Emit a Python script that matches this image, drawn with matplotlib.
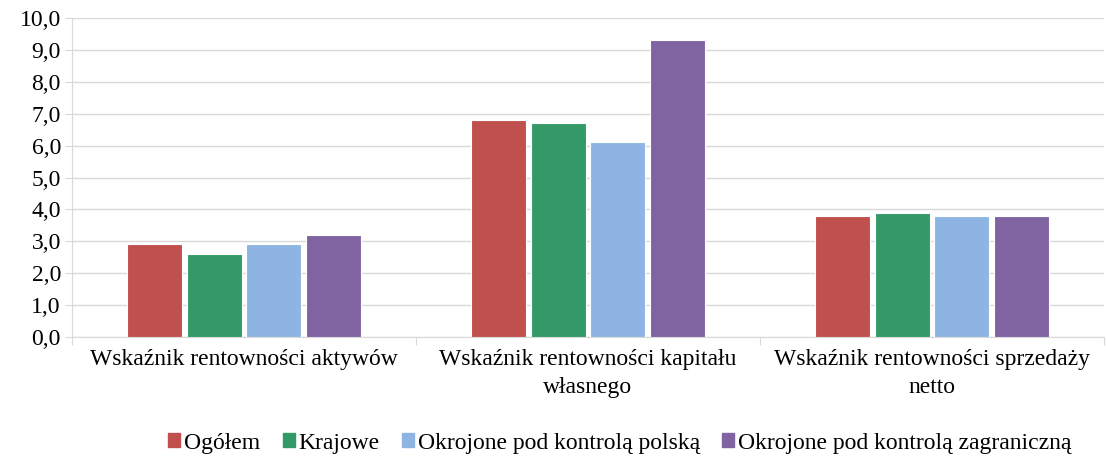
import numpy as np
import matplotlib.pyplot as plt
from matplotlib.patches import Patch

plt.rcParams['font.family'] = ['Liberation Serif', 'DejaVu Serif']

kategorie = ['Wskaźnik rentowności aktywów',
             'Wskaźnik rentowności kapitału\nwłasnego',
             'Wskaźnik rentowności sprzedaży\nnetto']
serie = ['Ogółem', 'Krajowe', 'Okrojone pod kontrolą polską',
         'Okrojone pod kontrolą zagraniczną']
ogolem = [2.9, 6.8, 3.8]
krajowe = [2.6, 6.7, 3.9]
polska = [2.9, 6.1, 3.8]
zagraniczna = [3.2, 9.3, 3.8]
kolory = ['#C0504D', '#339966', '#8EB4E3', '#8064A2']

fig = plt.figure(figsize=(11.06, 4.58), dpi=100)
ax = fig.add_axes([72/1106, 1-337/458, (1104-72)/1106, (337-18)/458])

x = np.arange(len(kategorie))
w = 0.16
step = 0.174
for i, (vals, c) in enumerate(zip([ogolem, krajowe, polska, zagraniczna], kolory)):
    ax.bar(x + (i - 1.5)*step, vals, w, color=c, edgecolor='white', linewidth=0.8, zorder=3)

ax.set_xlim(-0.5, 2.5)
ax.set_ylim(0, 10)
ax.set_yticks(np.arange(0, 11, 1))
ax.set_yticklabels([f'{v:.1f}'.replace('.', ',') for v in range(11)], fontsize=17)
ax.yaxis.grid(True, color='#D9D9D9', linewidth=1, zorder=0)
ax.tick_params(axis='y', length=5, color='#D9D9D9', pad=3)

ax.set_xticks([-0.5, 0.5, 1.5, 2.5])
ax.set_xticklabels([])
ax.set_xticks(x, minor=True)
ax.set_xticklabels(kategorie, minor=True, fontsize=17, linespacing=1.4)
ax.tick_params(axis='x', which='major', length=6, color='#D9D9D9')
ax.tick_params(axis='x', which='minor', length=0, pad=9)

for s in ['top', 'right']:
    ax.spines[s].set_visible(False)
ax.spines['left'].set_color('#D9D9D9')
ax.spines['bottom'].set_color('#D9D9D9')

uchwyty = [Patch(color=c, label=s) for c, s in zip(kolory, serie)]
fig.legend(handles=uchwyty, loc='center', bbox_to_anchor=(620/1106, 1-443/458), ncol=4,
           frameon=False, fontsize=17, handlelength=0.5, handleheight=0.5,
           handletextpad=0.17, columnspacing=0.95)

fig.savefig('out.png', dpi=100)
